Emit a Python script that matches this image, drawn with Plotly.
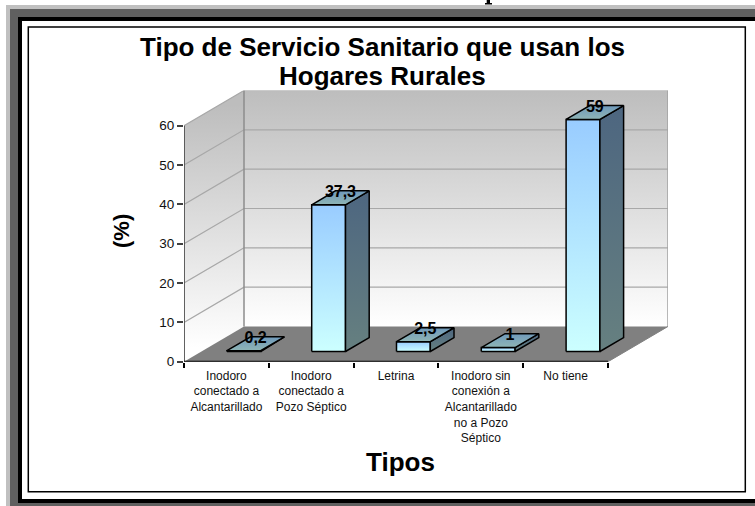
import plotly.graph_objects as go

# ---- data ----
categories = [
    "Inodoro<br>conectado a<br>Alcantarillado",
    "Inodoro<br>conectado a<br>Pozo Séptico",
    "Letrina",
    "Inodoro sin<br>conexión a<br>Alcantarillado<br>no a Pozo<br>Séptico",
    "No tiene",
]
values = [0.2, 37.3, 2.5, 1, 59]
value_labels = ["0,2", "37,3", "2,5", "1", "59"]
y_ticks = [0, 10, 20, 30, 40, 50, 60]

W, H = 755, 506
# pixel placement of the plot area (axis origin to far corner of the 3-D box)
PX_L, PX_R, PX_B, PX_T = 184.0, 668.0, 361.7, 90.5
PX_PER_CAT = 84.8
PX_PER_VAL = 3.933
N = len(categories)
YMAX = y_ticks[-1]
# oblique depth of the box, in axis units
DX = (PX_R - PX_L) / PX_PER_CAT - N
DY = (PX_B - PX_T) / PX_PER_VAL - YMAX
BAR_W = 33.8 / PX_PER_CAT
D_FRONT, D_BACK = 0.29, 0.685
LABEL_LIFT = 1.2


def px(x):
    return x / W


def py(y):
    return 1 - y / H


fig = go.Figure()


def poly(xs, ys, grad=None, color=None, line="rgba(0,0,0,0)", lw=0):
    kw = {}
    if grad:
        lo, hi = min(ys), max(ys)
        if len(grad) == 4:
            lo, hi = grad[2], grad[3]
        kw["fillgradient"] = dict(
            type="vertical", start=lo, stop=hi,
            colorscale=[[0, grad[0]], [1, grad[1]]],
        )
    else:
        kw["fillcolor"] = color
    fig.add_trace(go.Scatter(
        x=xs + xs[:1], y=ys + ys[:1], mode="lines", fill="toself",
        line=dict(color=line, width=lw), hoverinfo="skip", showlegend=False, **kw,
    ))


def seg(xs, ys, color, lw):
    fig.add_trace(go.Scatter(x=xs, y=ys, mode="lines", line=dict(color=color, width=lw),
                             hoverinfo="skip", showlegend=False))


WALL = ("#ffffff", "#bdbdbd")
EDGE = "#8c8c8c"
# back wall, side wall, floor
poly([DX, DX + N, DX + N, DX], [DY, DY, DY + YMAX, DY + YMAX],
     grad=WALL + (DY, DY + YMAX))
poly([0, DX, DX, 0], [0, DY, DY + YMAX, YMAX], grad=WALL + (DY * 0.4, DY * 0.6 + YMAX))
for v in y_ticks[1:]:
    seg([0, DX, DX + N], [v, v + DY, v + DY], "#a8a8a8", 1.2)
seg([DX, DX], [DY, DY + YMAX], EDGE, 1.5)
seg([DX + N, DX + N], [DY, DY + YMAX], "#a0a0a0", 1.5)
poly([0, N, N + DX, DX], [0, 0, DY, DY], color="#808080")

# bars
for i, v in enumerate(values):
    x0 = i + 0.5 - BAR_W / 2 + DX * D_FRONT
    x1 = x0 + BAR_W
    b0 = DY * D_FRONT
    bx = DX * (D_BACK - D_FRONT)
    by = DY * (D_BACK - D_FRONT)
    # front
    poly([x0, x1, x1, x0], [b0, b0, b0 + v, b0 + v],
         grad=("#ccffff", "#99ccff"), line="#000000", lw=1.5)
    # side
    poly([x1, x1 + bx, x1 + bx, x1], [b0, b0 + by, b0 + by + v, b0 + v],
         grad=("#668080", "#4d6680"), line="#000000", lw=1.5)
    # top
    poly([x0, x1, x1 + bx, x0 + bx], [b0 + v, b0 + v, b0 + by + v, b0 + by + v],
         grad=("#8fb5b5", "#6f99bb"), line="#000000", lw=1.5)

# axis lines
seg([0, 0], [0, YMAX], "#505050", 1.8)
seg([0, N], [0, 0], "#000000", 1.8)
seg([N, N + DX], [0, DY], "#808080", 1)

# value labels
lx = [i + 0.5 + DX * (D_FRONT + D_BACK) / 2 for i in range(N)]
ly = [v + DY * (D_FRONT + D_BACK) / 2 + LABEL_LIFT for v in values]
fig.add_trace(go.Scatter(
    x=lx, y=ly, mode="text", text=value_labels, textposition="middle center",
    textfont=dict(family="Liberation Sans", size=16, color="#000000", weight="bold"),
    hoverinfo="skip", showlegend=False,
))

# frame
shapes = []
for (x0, y0, x1, y1, c) in [
    (6, 5, W, H, "#c0c0c0"),
    (10, 9, W, H, "#606060"),
    (18, 17, W, 503, "#000000"),
    (22, 21, W, 499, "#ffffff"),
    (486.7, 0, 490, 4, "#000000"),   # descender of a cropped letter above the frame
    (485, 3, 492, 4.5, "#000000"),
]:
    shapes.append(dict(type="rect", xref="paper", yref="paper", layer="below",
                       x0=px(x0), x1=px(x1), y0=py(y0), y1=py(y1),
                       fillcolor=c, line=dict(width=0)))
shapes.append(dict(type="rect", xref="paper", yref="paper", layer="below",
                   x0=px(28.3), x1=px(745.3), y0=py(27), y1=py(491.7),
                   fillcolor="rgba(0,0,0,0)", line=dict(color="#000000", width=1.5)))

BOLD = dict(family="Liberation Sans", color="#000000", weight="bold")
ann = [
    dict(text="Tipo de Servicio Sanitario que usan los",
         x=px(383), y=py(47), xanchor="center", yanchor="middle", font=dict(size=26, **BOLD)),
    dict(text="Hogares Rurales",
         x=px(383), y=py(76), xanchor="center", yanchor="middle", font=dict(size=26, **BOLD)),
    dict(text="(%)", x=px(121), y=py(231), textangle=-90, xanchor="center", yanchor="middle",
         font=dict(size=22, **BOLD)),
    dict(text="Tipos", x=px(400.5), y=py(462), xanchor="center", yanchor="middle",
         font=dict(size=26, **BOLD)),
]
for a in ann:
    a.update(xref="paper", yref="paper", showarrow=False)

fig.update_layout(
    width=W, height=H, margin=dict(l=0, r=0, t=0, b=0, pad=0, autoexpand=False),
    paper_bgcolor="#ffffff", plot_bgcolor="rgba(0,0,0,0)", showlegend=False,
    shapes=shapes, annotations=ann,
    xaxis=dict(
        domain=[px(PX_L), px(PX_R)], range=[0, N + DX], showgrid=False, zeroline=False,
        tickmode="array", tickvals=[i + 0.5 for i in range(N)], ticktext=categories,
        ticks="", showline=False, automargin=False, ticklabelstandoff=5,
        tickfont=dict(family="Liberation Sans", size=12, color="#111111"),
        minor=dict(tickmode="array", tickvals=list(range(N + 1)), ticks="outside",
                   ticklen=5, tickwidth=1.5, tickcolor="#000000", showgrid=False),
    ),
    yaxis=dict(
        domain=[py(PX_B), py(PX_T)], range=[0, YMAX + DY], showgrid=False, zeroline=False,
        tickmode="array", tickvals=y_ticks, ticks="outside", ticklen=6, tickwidth=1.5,
        tickcolor="#404040", showline=False, automargin=False,
        tickfont=dict(family="Liberation Sans", size=13.5, color="#111111"),
    ),
)

fig.write_html("out.html", config=dict(displayModeBar=False),
               post_script="document.body.style.margin='0';")
